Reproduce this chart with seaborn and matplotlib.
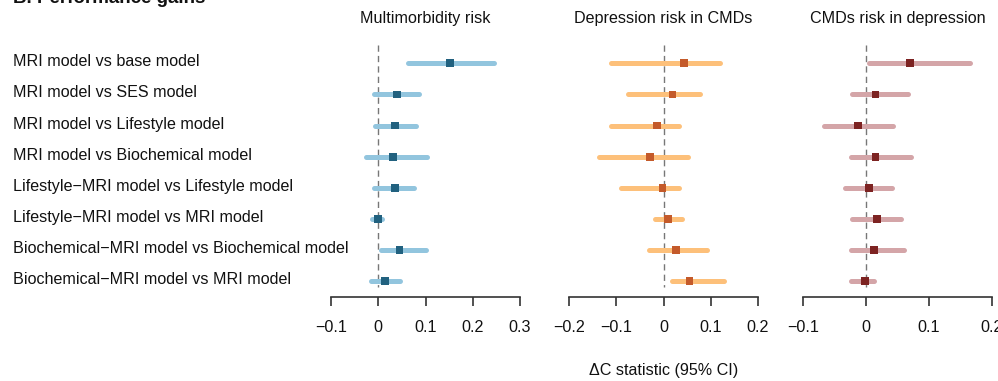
import numpy as np
import pandas as pd
import seaborn as sns
import matplotlib.pyplot as plt
from matplotlib.transforms import blended_transform_factory

# ==================== 数据 ====================
comparisons = [
    'MRI model vs base model',
    'MRI model vs SES model',
    'MRI model vs Lifestyle model',
    'MRI model vs Biochemical model',
    'Lifestyle\u2212MRI model vs Lifestyle model',
    'Lifestyle\u2212MRI model vs MRI model',
    'Biochemical\u2212MRI model vs Biochemical model',
    'Biochemical\u2212MRI model vs MRI model',
]

panel_titles = ['Multimorbidity risk', 'Depression risk in CMDs', 'CMDs risk in depression']

# Multimorbidity risk
multi_est = [0.151, 0.040, 0.036, 0.031, 0.036, 0.000, 0.045, 0.014]
multi_lo = [0.063, -0.010, -0.007, -0.025, -0.010, -0.014, 0.006, -0.015]
multi_hi = [0.244, 0.086, 0.080, 0.104, 0.076, 0.007, 0.101, 0.046]

# Depression risk in CMDs
dep_est = [0.043, 0.019, -0.013, -0.029, -0.002, 0.009, 0.026, 0.055]
dep_lo = [-0.112, -0.075, -0.111, -0.136, -0.090, -0.019, -0.031, 0.017]
dep_hi = [0.120, 0.078, 0.033, 0.052, 0.033, 0.039, 0.093, 0.129]

# CMDs risk in depression
cmd_est = [0.070, 0.015, -0.013, 0.015, 0.005, 0.018, 0.013, -0.002]
cmd_lo = [0.005, -0.023, -0.066, -0.024, -0.033, -0.022, -0.024, -0.024]
cmd_hi = [0.165, 0.066, 0.043, 0.071, 0.042, 0.055, 0.060, 0.013]

tick_values = [
    [-0.1, 0, 0.1, 0.2, 0.3],
    [-0.2, -0.1, 0, 0.1, 0.2],
    [-0.1, 0, 0.1, 0.2],
]
tick_labels = [
    ['\u22120.1', '0', '0.1', '0.2', '0.3'],
    ['\u22120.2', '\u22120.1', '0', '0.1', '0.2'],
    ['\u22120.1', '0', '0.1', '0.2'],
]

line_colors = ['#92C5DE', '#FDC07A', '#D4A5A8']
point_colors = ['#21617F', '#C45A2A', '#7D2322']

# ==================== 绘图 ====================
sns.set_theme(style='white')
plt.rcParams['font.family'] = ['Liberation Sans', 'DejaVu Sans']
plt.rcParams['axes.unicode_minus'] = True

W, H = 998, 381
fs = 11.6
fig = plt.figure(figsize=(W / 100, H / 100), dpi=100)

ax_left = [331, 569, 803]
ax_w = 189
ax_bottom_px = 296.7
ax_top_px = 40

series = [
    (multi_est, multi_lo, multi_hi),
    (dep_est, dep_lo, dep_hi),
    (cmd_est, cmd_lo, cmd_hi),
]

axes = []
for k, (est, lo, hi) in enumerate(series):
    ax = fig.add_axes([ax_left[k] / W, (H - ax_bottom_px) / H, ax_w / W, (ax_bottom_px - ax_top_px) / H])
    df = pd.DataFrame({'row': np.arange(len(comparisons)), 'est': est, 'lo': lo, 'hi': hi})

    ax.vlines(0, -0.6, 7.2, colors='#777777', linestyles=(0, (4.5, 3)), linewidth=1, zorder=1)
    ax.hlines(df['row'], df['lo'], df['hi'], colors=line_colors[k], linewidth=3.6,
              capstyle='round', zorder=2)
    sns.scatterplot(data=df, x='est', y='row', marker='s', s=32, color=point_colors[k],
                    edgecolor='none', linewidth=0, ax=ax, zorder=3, legend=False)

    ax.set_xlim(tick_values[k][0], tick_values[k][-1])
    ax.set_ylim(7.5, -0.75)
    ax.set_xticks(tick_values[k], tick_labels[k])
    ax.set_yticks([])
    ax.set_xlabel('')
    ax.set_ylabel('')
    for s in ['top', 'right', 'left']:
        ax.spines[s].set_visible(False)
    ax.spines['bottom'].set_color('#333333')
    ax.spines['bottom'].set_linewidth(1.2)
    ax.tick_params(axis='x', bottom=True, direction='out', length=6.5, width=1.2,
                   color='#333333', pad=10.5, labelsize=fs, labelcolor='#111111')
    ax.patch.set_alpha(0)

    fig.text((ax_left[k] + ax_w / 2) / W, 1 - 18 / H, panel_titles[k], ha='center', va='center',
             fontsize=fs, color='#111111')
    axes.append(ax)

# 行标签
trans = blended_transform_factory(fig.transFigure, axes[0].transData)
for i, lab in enumerate(comparisons):
    axes[0].text(13 / W, i - 0.05, lab, transform=trans, ha='left', va='center', fontsize=fs,
                 color='#111111', clip_on=False)

fig.text(13 / W, 1 - 3 / H, 'B. Performance gains', ha='left', va='baseline', fontsize=13.5,
         fontweight='bold', color='#111111')
fig.text(664 / W, 1 - 370 / H, '\u0394C statistic (95% CI)', ha='center', va='center',
         fontsize=fs, color='#111111')

fig.savefig('out.png', dpi=100)
